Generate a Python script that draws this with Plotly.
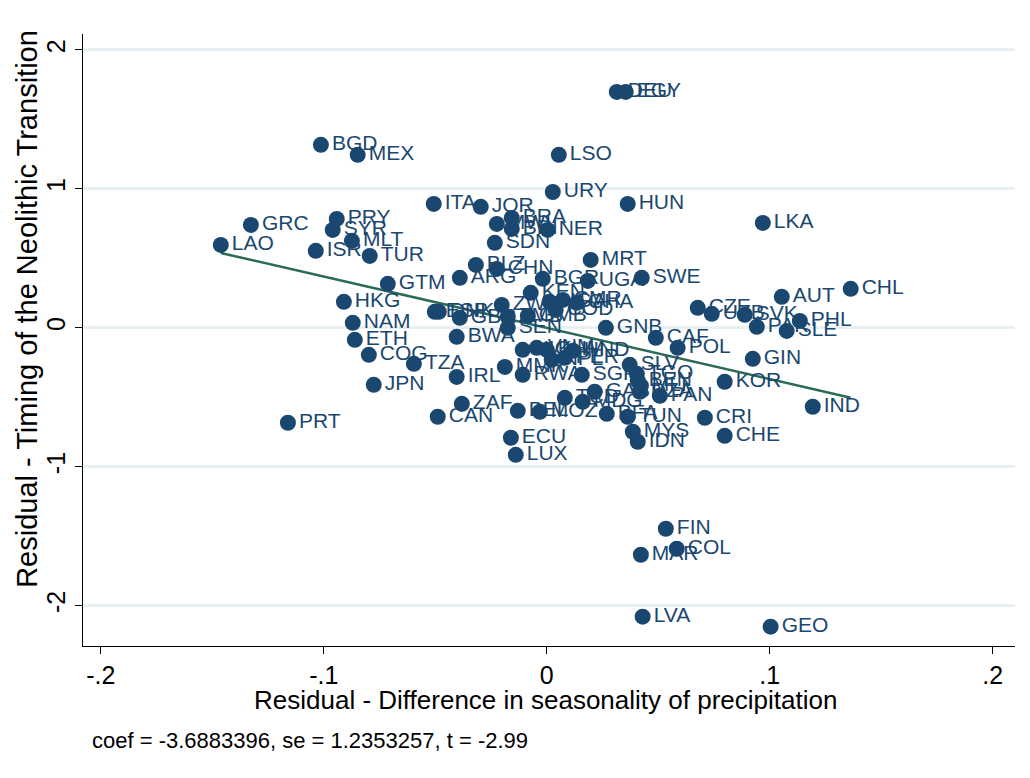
import plotly.graph_objects as go

# Country codes and residuals
codes = ["LAO","GRC","PRT","BGD","ISR","SYR","PRY","HKG","MLT","NAM","ETH","MEX","COG","TUR","JPN",
         "GTM","TZA","ITA","ESP","DNK","CAN","IRL","BWA","GBR","ARG","ZAF","BLZ","JOR","SDN","MWI",
         "CHN","ZWE","MMR","SEN","ZMB","ECU","BRA","BDI","LUX","BEL","NIC","RWA","GMB","KEN","VNM",
         "MOZ","BGR","KHM","NER","NGA","NPL","URY","COD","LSO","CMR","PER","TCD","HND","GHA","SGP",
         "MDG","UGA","MRT","GAB","GNB","BFA","DEU","EGY","HUN","TUN","SLV","MYS","IDN","TGO","BEN",
         "MLI","DZA","MAR","SWE","LVA","CAF","PAN","FIN","COL","POL","CZE","CRI","UZB","KOR","CHE",
         "SVK","GIN","PAK","LKA","GEO","AUT","SLE","PHL","IND","CHL"]

x_resid = [-0.1462,-0.1327,-0.1161,-0.1013,-0.1036,-0.0960,-0.0942,-0.0910,-0.0874,-0.0870,-0.0861,-0.0848,-0.0798,-0.0794,-0.0776,
           -0.0713,-0.0596,-0.0507,-0.0502,-0.0484,-0.0489,-0.0404,-0.0404,-0.0390,-0.0390,-0.0381,-0.0318,-0.0296,-0.0233,-0.0224,
           -0.0224,-0.0202,-0.0188,-0.0175,-0.0175,-0.0161,-0.0157,-0.0157,-0.0139,-0.0130,-0.0108,-0.0108,-0.0085,-0.0072,-0.0045,
           -0.0031,-0.0018,0.0000,0.0004,0.0013,0.0022,0.0027,0.0040,0.0054,0.0072,0.0081,0.0081,0.0117,0.0135,0.0157,
           0.0161,0.0184,0.0197,0.0215,0.0265,0.0269,0.0314,0.0354,0.0363,0.0363,0.0372,0.0386,0.0408,0.0404,0.0408,
           0.0422,0.0417,0.0422,0.0426,0.0430,0.0489,0.0507,0.0534,0.0583,0.0587,0.0677,0.0709,0.0740,0.0798,0.0798,
           0.0888,0.0924,0.0942,0.0969,0.1004,0.1054,0.1076,0.1135,0.1193,0.1363]

y_resid = [0.597,0.741,-0.683,1.317,0.554,0.705,0.784,0.187,0.626,0.036,-0.086,1.245,-0.194,0.518,-0.410,
           0.317,-0.259,0.892,0.115,0.115,-0.640,-0.353,-0.065,0.072,0.360,-0.547,0.453,0.871,0.612,0.748,
           0.424,0.165,-0.281,0.000,0.079,-0.791,0.791,0.712,-0.914,-0.597,-0.158,-0.338,0.086,0.252,-0.144,
           -0.604,0.353,-0.158,0.705,0.187,-0.230,0.978,0.129,1.245,0.201,-0.216,-0.504,-0.165,0.180,-0.338,
           -0.532,0.338,0.489,-0.460,0.000,-0.619,1.698,1.698,0.892,-0.640,-0.266,-0.748,-0.820,-0.331,-0.381,
           -0.417,-0.460,-1.633,0.360,-2.079,-0.072,-0.489,-1.446,-1.590,-0.144,0.144,-0.647,0.101,-0.388,-0.777,
           0.094,-0.223,0.007,0.755,-2.151,0.223,-0.022,0.050,-0.568,0.281]

coef = -3.6883396
se = 1.2353257
tstat = -2.99

x_ticks = [-0.2, -0.1, 0, 0.1, 0.2]
x_ticklabels = ["-.2", "-.1", "0", ".1", ".2"]
y_ticks = [-2, -1, 0, 1, 2]
y_ticklabels = ["-2", "-1", "0", "1", "2"]

x_title = "Residual - Difference in seasonality of precipitation"
y_title = "Residual - Timing of the Neolithic Transition"

navy = "#1a476f"
line_col = "#2b6a56"
font = "Liberation Sans, Arial, sans-serif"

fig = go.Figure()

fit_x = [min(x_resid), max(x_resid)]
fit_y = [coef * v for v in fit_x]
fig.add_trace(go.Scatter(x=fit_x, y=fit_y, mode="lines",
                         line=dict(color=line_col, width=2.5), hoverinfo="skip", showlegend=False))

fig.add_trace(go.Scatter(x=x_resid, y=y_resid, text=codes, mode="markers+text",
                         textposition="middle right",
                         marker=dict(color=navy, size=16, line=dict(width=0)),
                         textfont=dict(color=navy, size=21, family=font),
                         showlegend=False))

fig.update_layout(
    width=1030, height=778,
    margin=dict(l=75, r=23, t=26, b=140),
    paper_bgcolor="white", plot_bgcolor="white",
    font=dict(family=font, color="black"),
    xaxis=dict(range=[-0.208, 0.21], tickvals=x_ticks, ticktext=x_ticklabels,
               showgrid=False, zeroline=False, showline=True, linecolor="black", linewidth=1,
               ticks="outside", ticklen=7, tickcolor="black", tickfont=dict(size=25, family=font)),
    yaxis=dict(range=[-2.29, 2.115], tickvals=y_ticks, ticktext=y_ticklabels, tickangle=-90,
               showgrid=True, gridcolor="#e9f0f3", gridwidth=3, zeroline=False,
               showline=True, linecolor="black", linewidth=1,
               ticks="outside", ticklen=7, tickcolor="black", tickfont=dict(size=25, family=font)),
    annotations=[
        dict(text=x_title, xref="paper", yref="paper", x=0.496, y=-0.088,
             xanchor="center", yanchor="middle", showarrow=False,
             font=dict(size=26, family=font, color="black")),
        dict(text=y_title, xref="paper", yref="paper", x=-0.060, y=0.551, textangle=-90,
             xanchor="center", yanchor="middle", showarrow=False,
             font=dict(size=29, family=font, color="black")),
        dict(text=f"coef = {coef}, se = {se}, t = {tstat}",
             xref="paper", yref="paper", x=0.0075, y=-0.154,
             xanchor="left", yanchor="middle", showarrow=False,
             font=dict(size=22, family=font, color="black")),
    ],
)

fig.write_html("out.html")
